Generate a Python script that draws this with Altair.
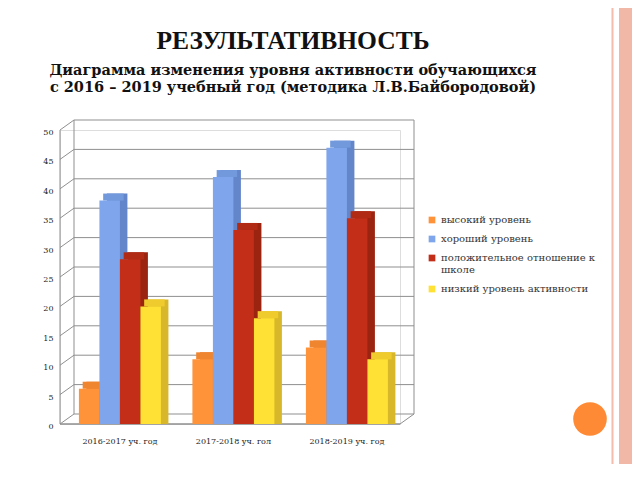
import pandas as pd
import altair as alt

# Data
years = ["2016-2017 уч. год", "2017-2018 уч. гол", "2018-2019 уч. год"]
series = ["высокий уровень", "хороший уровень",
          "положительное отношение к школе", "низкий уровень активности"]
high = [6, 11, 13]
good = [38, 42, 47]
positive = [28, 33, 35]
low = [20, 18, 11]
y_ticks = [0, 5, 10, 15, 20, 25, 30, 35, 40, 45, 50]

rows = []
for name, vals in zip(series, [high, good, positive, low]):
    for year, v in zip(years, vals):
        rows.append({"year": year, "series": name, "value": v})
df = pd.DataFrame(rows)
grid_df = pd.DataFrame({"tick": y_ticks})
decor_df = pd.DataFrame({"decor": ["slide"]})

W, H = 340, 294
DX, DY = 14, -10        # depth of the back wall
BAR = 20.5              # width of one bar
SX, SY = 7.5, -7        # depth of a bar

front_colors = ["#FF933A", "#7FA6EC", "#C22E17", "#FFE135"]
side_colors = ["#E0782A", "#6385C9", "#9B2410", "#D8B82A"]
top_colors = ["#F08530", "#7399DD", "#B02A14", "#EFCB2E"]
grid_color = "#8f8f8f"

x_scale = alt.Scale(paddingInner=0.2775, paddingOuter=0.1366, align=0.61)
y_scale = alt.Scale(domain=[0, 50], nice=False)

# same axis objects on every layer so the layered axes merge cleanly
x_axis = alt.Axis(title=None, labelAngle=0, domain=False, ticks=False, grid=False,
                  labelFont="DejaVu Serif", labelFontSize=8, labelColor="#222",
                  labelPadding=13)
y_axis = alt.Axis(title=None, domain=False, ticks=False, grid=False,
                  values=y_ticks, labelFont="DejaVu Serif", labelFontSize=8,
                  labelColor="#222", labelPadding=7, labelOffset=2.5)


def ty(field):
    return alt.Y(field, scale=y_scale, axis=y_axis)


# back wall gridlines
back_grid = alt.Chart(grid_df).mark_rule(color=grid_color, yOffset=DY).encode(
    y=ty("tick:Q"), x=alt.value(DX), x2=alt.value(W + DX)
)
# diagonals on the left wall
side_grid = alt.Chart(grid_df).mark_rule(color=grid_color, y2Offset=DY).encode(
    y=ty("tick:Q"), y2="tick:Q", x=alt.value(0), x2=alt.value(DX)
)
# wall edges and floor
back_left = alt.Chart(grid_df).mark_rule(color=grid_color, yOffset=DY, y2Offset=DY).encode(
    y=ty("min(tick):Q"), y2="max(tick):Q", x=alt.value(DX)
)
back_right = alt.Chart(grid_df).mark_rule(color=grid_color, yOffset=DY, y2Offset=DY).encode(
    y=ty("min(tick):Q"), y2="max(tick):Q", x=alt.value(W + DX)
)
front_left = alt.Chart(grid_df).mark_rule(color=grid_color).encode(
    y=ty("min(tick):Q"), y2="max(tick):Q", x=alt.value(0)
)
floor_front = alt.Chart(grid_df).mark_rule(color=grid_color, strokeWidth=1.5).encode(
    y=ty("min(tick):Q"), x=alt.value(0), x2=alt.value(W)
)
floor_right = alt.Chart(grid_df).mark_rule(color=grid_color, y2Offset=DY).encode(
    y=ty("min(tick):Q"), y2="min(tick):Q", x=alt.value(W), x2=alt.value(W + DX)
)

x_enc = alt.X("year:N", sort=years, scale=x_scale, axis=x_axis)

# bar sides (shifted back), tops and fronts
sides = alt.Chart(df).mark_bar(yOffset=SY, y2Offset=SY).encode(
    x=x_enc,
    xOffset=alt.XOffset("series:N", sort=series,
                        scale=alt.Scale(range=[SX, SX + 4 * BAR])),
    y=alt.Y("value:Q", scale=y_scale, stack=None, axis=y_axis),
    color=alt.Color("series:N", sort=series,
                    scale=alt.Scale(domain=series, range=side_colors), legend=None)
)
tops = alt.Chart(df).mark_tick(thickness=abs(SY), size=BAR, yOffset=SY / 2, opacity=1).encode(
    x=x_enc,
    xOffset=alt.XOffset("series:N", sort=series,
                        scale=alt.Scale(range=[SX / 2, SX / 2 + 4 * BAR])),
    y=ty("value:Q"),
    color=alt.Color("series:N", sort=series,
                    scale=alt.Scale(domain=series, range=top_colors), legend=None)
)
fronts = alt.Chart(df).mark_bar().encode(
    x=x_enc,
    xOffset=alt.XOffset("series:N", sort=series,
                        scale=alt.Scale(range=[0, 4 * BAR])),
    y=alt.Y("value:Q", scale=y_scale, stack=None, axis=y_axis),
    color=alt.Color("series:N", sort=series,
                    scale=alt.Scale(domain=series, range=front_colors),
                    legend=alt.Legend(
                        title=None, orient="none", legendX=367, legendY=85,
                        symbolType="square", symbolSize=45, symbolStrokeWidth=0,
                        labelFont="DejaVu Serif", labelFontSize=10,
                        labelColor="#333", rowPadding=9, labelLimit=220,
                        labelExpr="datum.label == 'положительное отношение к школе'"
                                  " ? ['положительное отношение к', 'школе'] : datum.label")),
    tooltip=["year", "series", "value"]
)

# slide decoration: pink strips on the right and the orange dot
strip_line = alt.Chart(decor_df).mark_rule(color="#F4BCAB", strokeWidth=2).encode(
    x=alt.value(552.5), y=alt.value(-122), y2=alt.value(342)
)
strip_band = alt.Chart(decor_df).mark_rect(color="#F2B8A7").encode(
    x=alt.value(559), x2=alt.value(572), y=alt.value(-122), y2=alt.value(342)
)
dot = alt.Chart(decor_df).mark_point(filled=True, opacity=1, color="#FF8A35",
                                     size=1130, shape="circle").encode(
    x=alt.value(530), y=alt.value(289)
)

chart = alt.layer(
    back_grid, side_grid, back_left, back_right, front_left, floor_front, floor_right,
    sides, tops, fronts, strip_line, strip_band, dot
).resolve_scale(
    color="independent", xOffset="independent"
).properties(
    width=W, height=H,
    autosize=alt.AutoSizeParams(type="none"),
    padding={"left": 52, "top": 122, "right": 232, "bottom": 40},
    title=alt.Title(
        "РЕЗУЛЬТАТИВНОСТЬ",
        subtitle=["Диаграмма изменения уровня активности обучающихся",
                  "с 2016 – 2019  учебный год (методика Л.В.Байбородовой)"],
        font="Liberation Serif", fontSize=25.5, fontWeight="bold", color="#111",
        subtitleFont="DejaVu Serif", subtitleFontSize=14.5,
        subtitleFontWeight="bold", subtitleColor="#111",
        subtitleLineHeight=17, subtitlePadding=9,
        anchor="middle", frame="group", dx=63, offset=-87
    )
).configure_view(stroke=None).configure(background="white")

chart.save("out.html", embed_options={"renderer": "svg", "actions": False})
